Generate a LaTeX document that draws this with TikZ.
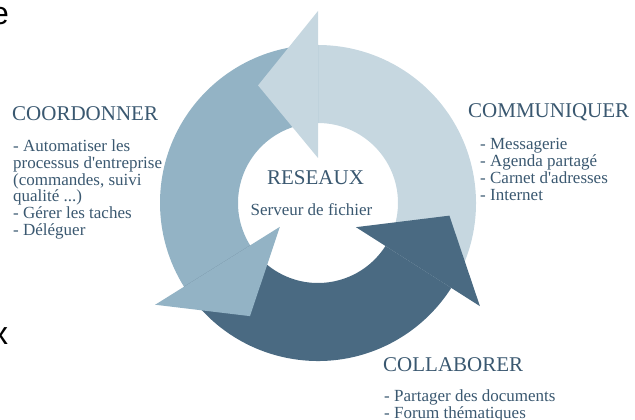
\documentclass[tikz,border=0pt]{standalone}
\usepackage{fontspec}
\setmainfont{Liberation Serif}
\newfontfamily\strayfont{Liberation Sans}
\definecolor{lightarr}{HTML}{C6D7E0}
\definecolor{midarr}{HTML}{93B3C5}
\definecolor{darkarr}{HTML}{4A6A82}
\definecolor{txt}{HTML}{3A5870}
\tikzset{
  title/.style={anchor=base west, inner sep=0pt, text=txt, font=\fontsize{21}{21}\selectfont},
  items/.style={anchor=base west, inner sep=0pt, text=txt, align=left, font=\fontsize{17}{16.7}\selectfont},
  stray/.style={anchor=base west, inner sep=0pt, text=black, font=\strayfont\fontsize{32}{32}\selectfont},
}
\newcommand{\rin}{80}
\newcommand{\rout}{158}
\newcommand{\arrbody}[3]{% color, from, to
  \fill[#1] (#2:\rout) arc[start angle=#2, end angle=#3, radius=\rout] -- (#3:\rin) arc[start angle=#3, end angle=#2, radius=\rin] -- cycle;}
\newcommand{\arrhead}[2]{% color, base angle
  \fill[#1] (#2:45) -- (#2:192) -- ({#2+27}:132) -- cycle;}
\begin{document}
\begin{tikzpicture}[x=1pt,y=1pt]
\useasboundingbox (0,0) rectangle (635,420);
\clip (0,0) rectangle (635,420);
\begin{scope}[shift={(318,217)}]
  \arrbody{lightarr}{-32.5}{90}
  \arrbody{midarr}{90}{212}
  \arrbody{darkarr}{212}{327.5}
  \arrhead{lightarr}{90}
  \arrhead{midarr}{212}
  \arrhead{darkarr}{327.5}
\end{scope}
\node[title] (coord) at (12,299) {COORDONNER};
\node[items] (coordi) at (13,184.8) {- Automatiser les\\processus d\textquotesingle entreprise\\(commandes, suivi\\qualité ...)\\- Gérer les taches\\- Déléguer};
\node[title] (comm) at (468,302) {COMMUNIQUER};
\node[items] (commi) at (480,219.9) {- Messagerie\\- Agenda partagé\\- Carnet d\textquotesingle adresses\\- Internet};
\node[title] (coll) at (383,48) {COLLABORER};
\node[items] (colli) at (384,1.8) {- Partager des documents\\- Forum thématiques};
\node[title, anchor=base] (res) at (315.5,235) {RESEAUX};
\node[items, anchor=base] (serv) at (311.5,204) {Serveur de fichier};
\node[stray] (se) at (-9,395) {e};
\node[stray] (sx) at (-8,75) {x};
\end{tikzpicture}
\end{document}
